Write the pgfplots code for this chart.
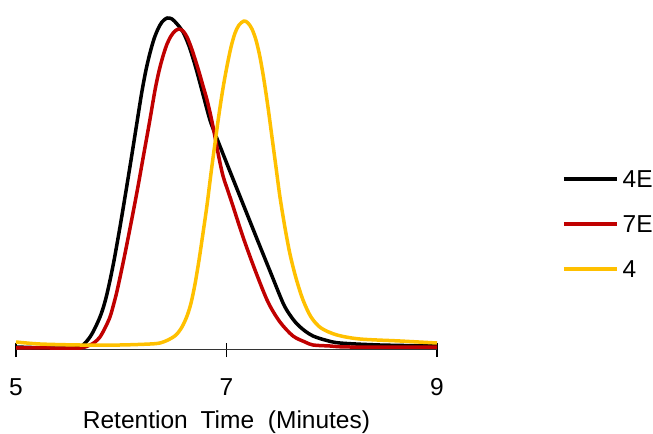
\documentclass[border=0pt]{standalone}
\usepackage{fontspec}
\setmainfont{Liberation Sans}
\usepackage{pgfplots}
\pgfplotsset{compat=1.18}
\definecolor{cred}{RGB}{192,0,0}
\definecolor{cyel}{RGB}{255,192,0}
\begin{document}
\begin{tikzpicture}
\fontsize{24.5bp}{28bp}\selectfont
\begin{axis}[
  at={(16bp,84bp)}, anchor=south west,
  scale only axis, width=421bp, height=335bp,
  xmin=5, xmax=9, ymin=0, ymax=335,
  clip=false,
  axis x line*=bottom, axis y line=none,
  x axis line style={line width=1bp, black!80},
  xtick={5,7,9},
  tick align=center, major tick length=14bp,
  major tick style={line width=1.2bp, black},
  xticklabel style={anchor=base, inner sep=0pt, yshift=-38bp, font=\fontsize{24.5bp}{28bp}\selectfont},
  /pgf/number format/assume math mode=true,
  xlabel={Retention\hspace{6bp} Time\hspace{7bp} (Minutes)},
  xlabel style={at={(axis description cs:0.5,0)}, anchor=base, inner sep=0pt, yshift=-78bp, font=\fontsize{24.5bp}{28bp}\selectfont},
  legend style={at={(rel axis cs:1.297,0.376)}, anchor=west, draw=none, fill=none, inner sep=0pt,
    row sep=28bp, column sep=4bp,
    nodes={inner sep=0pt, text height=17bp, text depth=0pt, font=\fontsize{24.5bp}{28bp}\selectfont}},
  legend cell align=left,
  legend image code/.code={\draw[#1] (0bp,0bp) -- (53bp,0bp);},
  every axis plot/.append style={line width=3.5bp, line join=round},
]
\addplot[black, smooth, tension=0.5] table {
5.000 3
5.323 2
5.561 2
5.637 5
5.703 13
5.751 22
5.798 33
5.831 43
5.862 55
5.898 72
5.934 91
5.988 123
6.042 157
6.099 194
6.147 226
6.194 257
6.235 280
6.273 297
6.311 311
6.349 321
6.387 328
6.435 332
6.482 331
6.530 326
6.587 318
6.644 304
6.701 285
6.748 267
6.786 252
6.843 230
6.900 214
7.005 186
7.157 146
7.290 111
7.413 79
7.537 47
7.603 35
7.670 26
7.746 19
7.822 14
7.936 10
8.078 7
8.458 5
9.000 4
};
\addlegendentry{4E}
\addplot[cred, smooth, tension=0.5] table {
5.000 2
5.323 2
5.608 2
5.703 5
5.751 8
5.798 13
5.846 22
5.893 33
5.926 45
5.962 60
6.029 93
6.093 127
6.153 160
6.209 193
6.267 227
6.321 260
6.359 279
6.397 294
6.435 306
6.473 314
6.511 319
6.549 321
6.587 319
6.625 313
6.663 303
6.701 291
6.739 278
6.777 264
6.815 250
6.853 233
6.891 213
6.929 192
6.967 174
7.014 159
7.052 147
7.157 113
7.271 80
7.394 48
7.508 28
7.632 14
7.746 8
7.822 5
7.983 4
8.173 3
9.000 3
};
\addlegendentry{7E}
\addplot[cyel, smooth, tension=0.5] table {
5.000 8
5.228 6
5.608 5
5.988 5
6.273 6
6.368 7
6.444 10
6.520 15
6.577 23
6.625 34
6.663 47
6.701 66
6.739 90
6.777 117
6.815 145
6.853 177
6.891 207
6.929 236
6.967 262
7.005 284
7.043 303
7.081 317
7.119 325
7.166 329
7.204 327
7.242 321
7.280 310
7.318 293
7.356 270
7.394 243
7.432 213
7.470 183
7.508 153
7.556 122
7.603 96
7.660 72
7.727 50
7.803 33
7.898 22
8.050 15
8.268 11
8.648 9
9.000 7
};
\addlegendentry{4}
\end{axis}
\pgfresetboundingbox
\path[use as bounding box] (0,0) rectangle (653bp,434bp);
\end{tikzpicture}
\end{document}
